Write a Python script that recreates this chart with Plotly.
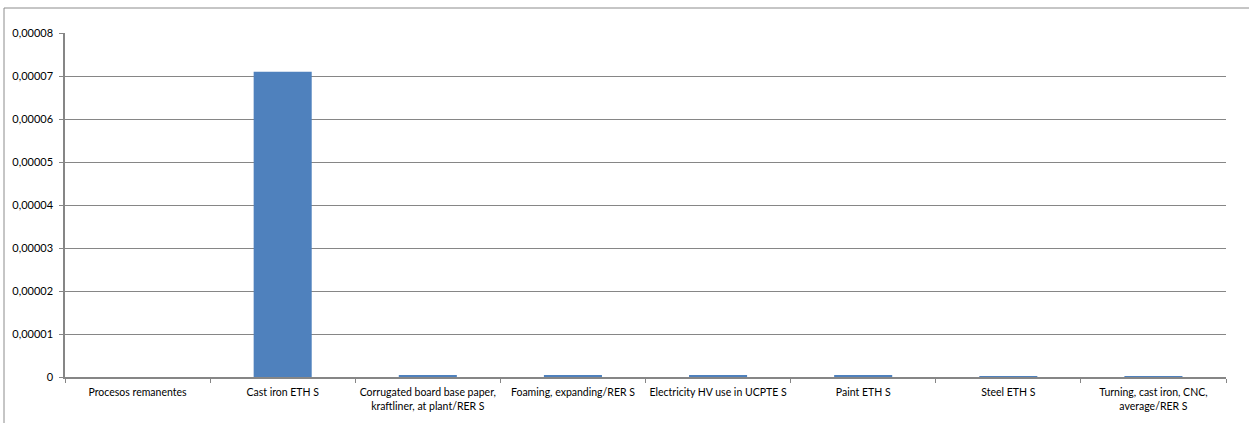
import plotly.graph_objects as go

categories = [
    "Procesos remanentes",
    "Cast iron ETH S",
    "Corrugated board base paper,<br>kraftliner, at plant/RER S",
    "Foaming, expanding/RER S",
    "Electricity HV use in UCPTE S",
    "Paint ETH S",
    "Steel ETH S",
    "Turning, cast iron, CNC,<br>average/RER S",
]
values = [0.0, 0.0000710, 0.0000004, 0.0000004, 0.0000003, 0.0000004, 0.00000015, 0.00000015]

ytick_vals = [0, 0.00001, 0.00002, 0.00003, 0.00004, 0.00005, 0.00006, 0.00007, 0.00008]
ytick_text = ["0", "0,00001", "0,00002", "0,00003", "0,00004", "0,00005", "0,00006", "0,00007", "0,00008"]

W, H = 1249, 423
ml, mr, mt, mb = 65, 23, 33, 46
pw = W - ml - mr
ph = H - mt - mb

fig = go.Figure(go.Bar(x=categories, y=values, marker_color="#4F81BD", marker_line_width=0))

fig.update_layout(
    width=W, height=H,
    margin=dict(l=ml, r=mr, t=mt, b=mb, autoexpand=False),
    paper_bgcolor="white", plot_bgcolor="white",
    bargap=0.6,
    showlegend=False,
    font=dict(family="Lato, Open Sans, sans-serif", size=10.5, color="#000000"),
    shapes=[dict(
        type="rect", xref="paper", yref="paper",
        x0=(4 - ml) / pw, x1=(W + 10 - ml) / pw,
        y0=(H - (H + 10) - mb) / ph, y1=(H - 8 - mb) / ph,
        line=dict(color="#8c8c8c", width=1), fillcolor="rgba(0,0,0,0)", layer="below",
    )],
)
fig.update_xaxes(
    type="category", showgrid=False, showline=True, linecolor="#868686", linewidth=1.5,
    ticks="outside", tickson="boundaries", ticklen=4, tickcolor="#868686",
    tickfont=dict(size=10.5), ticklabelstandoff=5, tickangle=0, automargin=False,
)
fig.update_yaxes(
    range=[0, 0.00008], tickvals=ytick_vals, ticktext=ytick_text,
    showgrid=True, gridcolor="#868686", gridwidth=1.2,
    showline=True, linecolor="#868686", linewidth=1.5,
    ticks="outside", ticklen=4, tickcolor="#868686", zeroline=False,
    tickfont=dict(size=11), ticklabelstandoff=4, automargin=False,
)

fig.write_html(
    "out.html",
    config={"displayModeBar": False},
    post_script="document.body.style.margin='0';document.body.style.overflow='hidden';",
)
